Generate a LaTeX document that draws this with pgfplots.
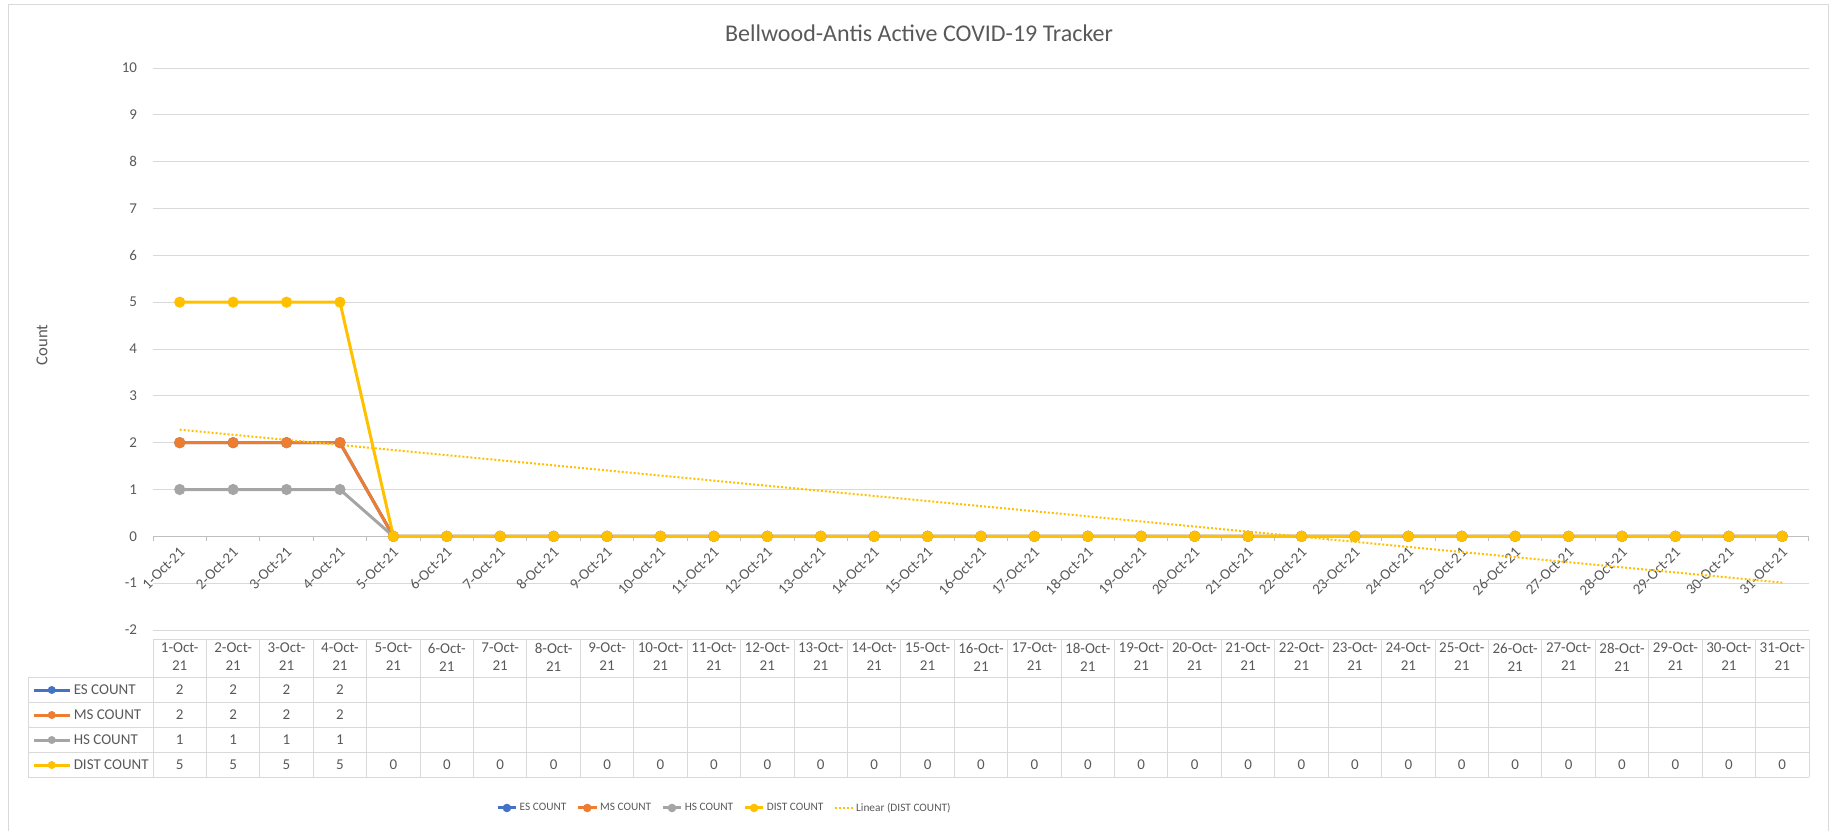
\documentclass[border=0pt]{standalone}
\usepackage{pgfplots}
\pgfplotsset{compat=1.18}
\usepackage{fontspec}
\setmainfont{Carlito}
\definecolor{esc}{HTML}{4472C4}
\definecolor{msc}{HTML}{ED7D31}
\definecolor{hsc}{HTML}{A5A5A5}
\definecolor{dsc}{HTML}{FFC000}
\definecolor{txt}{HTML}{595959}
\definecolor{grd}{HTML}{D9D9D9}
\definecolor{axl}{HTML}{BFBFBF}
\newcommand{\tf}{\fontsize{11.25}{13.5}\selectfont}
\begin{document}
\begin{tikzpicture}
\begin{scope}[shift={(0pt,623.25pt)}, x=0.75pt, y=-0.75pt]
\path (0,0) rectangle (1836,831);
\draw[grd, line width=0.75pt] (8,831) -- (8,5) -- (1828,5) -- (1828,831);
\node[txt, font=\fontsize{18}{21}\selectfont] at (919,33) {Bellwood-Antis Active COVID-19 Tracker};
\node[txt, rotate=90, font=\fontsize{12.5}{14}\selectfont] at (42,345) {Count};
\end{scope}

\begin{axis}[
  at={(114.75pt,150.75pt)}, anchor=south west, scale only axis,
  width=1242pt, height=421.5pt,
  xmin=0.5, xmax=31.5, ymin=-2, ymax=10,
  ytick={-2,-1,0,1,2,3,4,5,6,7,8,9,10}, xtick=\empty,
  ymajorgrids, major grid style={grd, line width=0.75pt},
  axis line style={draw=none}, major tick length=0pt,
  /pgf/number format/assume math mode=true,
  yticklabel style={txt, font=\tf, xshift=-8.5pt},
  clip=false,
  legend style={at={(0.345,-0.3167)}, anchor=center, legend columns=-1, draw=none, fill=none,
    font=\fontsize{8.5}{10}\selectfont, text=txt,
    nodes={inner sep=1.5pt},
    /tikz/every even column/.append style={column sep=6pt}},
  legend image code/.code={\draw[mark repeat=2,mark phase=2] plot coordinates {(0pt,0pt)(7pt,0pt)(14pt,0pt)};},
  legend image post style={mark size=2pt},
]
\draw[axl, line width=0.75pt] (axis cs:0.5,0) -- (axis cs:31.5,0);
\pgfplotsinvokeforeach{0.5,1.5,...,31.5}{\draw[axl, line width=0.75pt] (axis cs:#1,0) -- ([yshift=-3.5pt]axis cs:#1,0);}
\pgfplotsinvokeforeach{1,...,31}{\node[xshift=2pt, yshift=-10pt, rotate=45, anchor=east, txt, font=\tf, inner sep=0pt] at (axis cs:#1,0) {#1-Oct-21};}

\addplot[esc, line width=2.25pt, mark=*, mark size=3pt] coordinates {
(1,2)(2,2)(3,2)(4,2)(5,0)(6,0)(7,0)(8,0)(9,0)(10,0)(11,0)(12,0)(13,0)(14,0)(15,0)(16,0)
(17,0)(18,0)(19,0)(20,0)(21,0)(22,0)(23,0)(24,0)(25,0)(26,0)(27,0)(28,0)(29,0)(30,0)(31,0)};
\addlegendentry{ES COUNT}
\addplot[msc, line width=2.25pt, mark=*, mark size=3pt] coordinates {
(1,2)(2,2)(3,2)(4,2)(5,0)(6,0)(7,0)(8,0)(9,0)(10,0)(11,0)(12,0)(13,0)(14,0)(15,0)(16,0)
(17,0)(18,0)(19,0)(20,0)(21,0)(22,0)(23,0)(24,0)(25,0)(26,0)(27,0)(28,0)(29,0)(30,0)(31,0)};
\addlegendentry{MS COUNT}
\addplot[hsc, line width=2.25pt, mark=*, mark size=3pt] coordinates {
(1,1)(2,1)(3,1)(4,1)(5,0)(6,0)(7,0)(8,0)(9,0)(10,0)(11,0)(12,0)(13,0)(14,0)(15,0)(16,0)
(17,0)(18,0)(19,0)(20,0)(21,0)(22,0)(23,0)(24,0)(25,0)(26,0)(27,0)(28,0)(29,0)(30,0)(31,0)};
\addlegendentry{HS COUNT}
\addplot[dsc, line width=2.25pt, mark=*, mark size=3pt] coordinates {
(1,5)(2,5)(3,5)(4,5)(5,0)(6,0)(7,0)(8,0)(9,0)(10,0)(11,0)(12,0)(13,0)(14,0)(15,0)(16,0)
(17,0)(18,0)(19,0)(20,0)(21,0)(22,0)(23,0)(24,0)(25,0)(26,0)(27,0)(28,0)(29,0)(30,0)(31,0)};
\addlegendentry{DIST COUNT}
\addplot[dsc, line width=1.5pt, dash pattern=on 1.5pt off 1.5pt] coordinates {(1,2.278) (31,-0.988)};
\addlegendentry{Linear (DIST COUNT)}
\end{axis}

\begin{scope}[shift={(0pt,623.25pt)}, x=0.75pt, y=-0.75pt]
% table grid
\draw[grd, line width=0.75pt] (153,639) -- (1809,639);
\foreach \yy in {677,702,727,752,777} {\draw[grd, line width=0.75pt] (28,\yy) -- (1809,\yy);}
\draw[grd, line width=0.75pt] (28,677) -- (28,777);
\foreach \k in {0,...,31} {\draw[grd, line width=0.75pt] ({153+\k*53.419},639) -- ({153+\k*53.419},777);}
% header
\foreach \k in {1,...,31} {\node[txt, font=\tf, align=center, inner sep=0pt] at ({153+(\k-0.5)*53.419},657) {\k-Oct-\\21};}
% row labels
\node[anchor=west, txt, font=\tf, inner sep=0pt] at (32,689.5) {\tikz[baseline=-0.6ex]{\draw[esc,line width=2.25pt](0,0)--(27pt,0);\fill[esc](13.5pt,0) circle(3pt);}\,ES COUNT};
\node[anchor=west, txt, font=\tf, inner sep=0pt] at (32,714.5) {\tikz[baseline=-0.6ex]{\draw[msc,line width=2.25pt](0,0)--(27pt,0);\fill[msc](13.5pt,0) circle(3pt);}\,MS COUNT};
\node[anchor=west, txt, font=\tf, inner sep=0pt] at (32,739.5) {\tikz[baseline=-0.6ex]{\draw[hsc,line width=2.25pt](0,0)--(27pt,0);\fill[hsc](13.5pt,0) circle(3pt);}\,HS COUNT};
\node[anchor=west, txt, font=\tf, inner sep=0pt] at (32,764.5) {\tikz[baseline=-0.6ex]{\draw[dsc,line width=2.25pt](0,0)--(27pt,0);\fill[dsc](13.5pt,0) circle(3pt);}\,DIST COUNT};
% values
\foreach \k in {1,2,3,4} {
  \node[txt, font=\tf] at ({153+(\k-0.5)*53.419},689.5) {2};
  \node[txt, font=\tf] at ({153+(\k-0.5)*53.419},714.5) {2};
  \node[txt, font=\tf] at ({153+(\k-0.5)*53.419},739.5) {1};
  \node[txt, font=\tf] at ({153+(\k-0.5)*53.419},764.5) {5};
}
\foreach \k in {5,...,31} {\node[txt, font=\tf] at ({153+(\k-0.5)*53.419},764.5) {0};}
\end{scope}
\end{tikzpicture}
\end{document}
